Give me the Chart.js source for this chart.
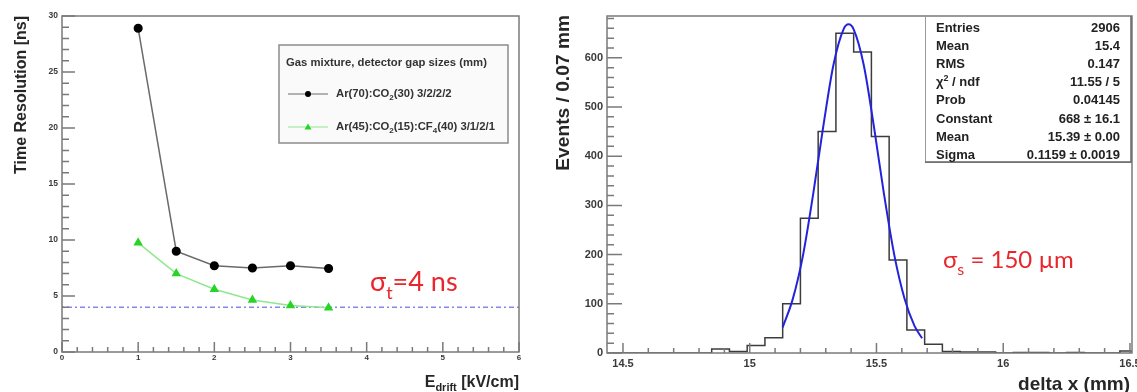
<!DOCTYPE html>
<html>
<head>
<meta charset="utf-8">
<script src="https://cdn.jsdelivr.net/npm/chart.js@4.4.0/dist/chart.umd.min.js"></script>
<style>
  html, body { margin: 0; padding: 0; background: #fff; }
  #wrap { position: relative; width: 1137px; height: 392px; overflow: hidden; }
  .panel { position: absolute; top: 0; height: 392px; }
  #left { left: 0; width: 540px; }
  #right { left: 540px; width: 597px; }
</style>
</head>
<body>
<div id="wrap">
  <div class="panel" id="left"><canvas id="timeRes"></canvas></div>
  <div class="panel" id="right"><canvas id="deltaX"></canvas></div>
</div>
<script>
// ---- left panel: time resolution vs drift field ----
const driftField = [1, 1.5, 2, 2.5, 3, 3.5];
const resArCO2 = [28.9, 9.0, 7.7, 7.5, 7.7, 7.45];
const resArCO2CF4 = [9.75, 7.0, 5.6, 4.65, 4.15, 3.95];
const sigmaTField = [0, 6];
const sigmaTValue = [4, 4];
const fieldTicks = [0, 1, 2, 3, 4, 5, 6];
const resTicks = [0, 5, 10, 15, 20, 25, 30];
const legendTitle = "Gas mixture, detector gap sizes (mm)";
const seriesNames = ["Ar(70):CO_{2}(30) 3/2/2/2", "Ar(45):CO_{2}(15):CF_{4}(40) 3/1/2/1"];

// ---- right panel: delta x histogram (0.07 mm bins) + gaussian fit ----
const binEdges = [14.43, 14.50, 14.57, 14.64, 14.71, 14.78, 14.85, 14.92, 14.99, 15.06,
                  15.13, 15.20, 15.27, 15.34, 15.41, 15.48, 15.55, 15.62, 15.69, 15.76,
                  15.83, 15.90, 15.97, 16.04, 16.11, 16.18, 16.25, 16.32, 16.39, 16.46, 16.53];
const binCounts = [0, 0, 0, 0, 0, 0, 8, 3, 15, 31,
                   100, 274, 450, 650, 612, 440, 189, 47, 18, 3,
                   2, 2, 0, 1, 1, 0, 1, 0, 0, 4];
const fitX = [15.13, 15.17, 15.21, 15.25, 15.29, 15.33, 15.37, 15.39, 15.41, 15.45, 15.49, 15.53, 15.57, 15.61, 15.65, 15.68];
const fitY = [52, 110, 198, 322, 460, 585, 658, 668, 658, 585, 460, 322, 200, 112, 55, 30];
const dxTicks = [14.5, 15, 15.5, 16, 16.5];
const countTicks = [0, 100, 200, 300, 400, 500, 600];
const statsLabels = ["Entries", "Mean", "RMS", "\u03C7^{2} / ndf", "Prob", "Constant", "Mean", "Sigma"];
const statsValues = ["2906", "15.4", "0.147", "11.55 / 5", "0.04145", "668 \u00B1 16.1", "15.39 \u00B1 0.00", "0.1159 \u00B1 0.0019"];

const ROOT_FONT = "'Liberation Sans', Arial, sans-serif";
const NOTE_FONT = "Lato, 'Open Sans', sans-serif";

// text with _{sub} and ^{sup} pieces
function richParts(text) {
  return text.split(/(_\{[^}]*\}|\^\{[^}]*\})/).filter(s => s.length).map(s => {
    if (s.startsWith('_{')) return { t: s.slice(2, -1), k: 'sub' };
    if (s.startsWith('^{')) return { t: s.slice(2, -1), k: 'sup' };
    return { t: s, k: 'n' };
  });
}
function drawRich(ctx, text, x, y, size, weight, family, align) {
  const parts = richParts(text);
  const fontFor = k => `${weight} ${k === 'n' ? size : Math.round(size * 0.68)}px ${family}`;
  let w = 0;
  parts.forEach(p => { ctx.font = fontFor(p.k); p.w = ctx.measureText(p.t).width; w += p.w; });
  let cx = align === 'right' ? x - w : x;
  ctx.textAlign = 'left';
  ctx.textBaseline = 'alphabetic';
  parts.forEach(p => {
    ctx.font = fontFor(p.k);
    const dy = p.k === 'sub' ? size * 0.28 : p.k === 'sup' ? -size * 0.4 : 0;
    ctx.fillText(p.t, cx, y + dy);
    cx += p.w;
  });
}

function drawFrameAndTicks(chart, s) {
  const { ctx, chartArea: a, scales } = chart;
  const x = scales.x, y = scales.y;
  ctx.save();
  ctx.strokeStyle = '#7a7a7a';
  ctx.lineWidth = 1.5;
  ctx.strokeRect(a.left, a.top, a.right - a.left, a.bottom - a.top);
  ctx.beginPath();
  const walk = (min, max, minor, major, fn) => {
    for (let k = Math.ceil(min / minor - 1e-6); k * minor <= max + 1e-6; k++) {
      const v = k * minor;
      const r = v / major;
      fn(v, Math.abs(r - Math.round(r)) < 1e-6);
    }
  };
  walk(x.min, x.max, s.xMinor, s.xMajor, (v, big) => {
    const px = x.getPixelForValue(v);
    ctx.moveTo(px, a.bottom);
    ctx.lineTo(px, a.bottom - (big ? s.xBig : s.xSmall));
  });
  walk(y.min, y.max, s.yMinor, s.yMajor, (v, big) => {
    const py = y.getPixelForValue(v);
    ctx.moveTo(a.left, py);
    ctx.lineTo(a.left + (big ? s.yBig : s.ySmall), py);
  });
  ctx.stroke();
  ctx.restore();
}

function fixAxis(size) {
  return scale => {
    if (scale.isHorizontal()) scale.height = size; else scale.width = size;
    scale.paddingLeft = 0; scale.paddingRight = 0;
    scale.paddingTop = 0; scale.paddingBottom = 0;
  };
}

// ---------------- left chart ----------------
new Chart(document.getElementById('timeRes'), {
  type: 'scatter',
  data: {
    datasets: [
      {
        label: seriesNames[0],
        data: driftField.map((f, i) => ({ x: f, y: resArCO2[i] })),
        showLine: true,
        borderColor: '#6a6a6a',
        borderWidth: 1.5,
        pointStyle: 'circle',
        pointRadius: 3.8,
        pointBackgroundColor: '#000',
        pointBorderColor: '#000',
        order: 1
      },
      {
        label: seriesNames[1],
        data: driftField.map((f, i) => ({ x: f, y: resArCO2CF4[i] })),
        showLine: true,
        borderColor: '#8ee88e',
        borderWidth: 1.5,
        pointStyle: 'triangle',
        pointRadius: 4,
        pointBackgroundColor: '#27d427',
        pointBorderColor: '#27d427',
        order: 2
      },
      {
        label: 'sigma_t',
        data: sigmaTField.map((f, i) => ({ x: f, y: sigmaTValue[i] })),
        showLine: true,
        borderColor: '#8585ee',
        borderWidth: 1.5,
        borderDash: [2, 3, 5, 3],
        pointRadius: 0,
        order: 3
      }
    ]
  },
  options: {
    responsive: true,
    maintainAspectRatio: false,
    animation: false,
    layout: { padding: { top: 16, right: 21, left: 0, bottom: 0 } },
    plugins: { legend: { display: false }, tooltip: { enabled: false } },
    scales: {
      x: {
        type: 'linear', min: 0, max: 6,
        afterBuildTicks: sc => { sc.ticks = fieldTicks.map(v => ({ value: v })); },
        afterFit: fixAxis(40),
        grid: { display: false, drawTicks: false }, border: { display: false },
        ticks: { padding: 1, color: '#3a3a3a', font: { family: ROOT_FONT, size: 8, weight: 'bold' }, maxRotation: 0 }
      },
      y: {
        type: 'linear', min: 0, max: 30,
        afterBuildTicks: sc => { sc.ticks = resTicks.map(v => ({ value: v })); },
        afterFit: fixAxis(62),
        grid: { display: false, drawTicks: false }, border: { display: false },
        ticks: { padding: 4, color: '#3a3a3a', font: { family: ROOT_FONT, size: 8.5, weight: 'bold' } }
      }
    }
  },
  plugins: [{
    id: 'leftDeco',
    afterDraw(chart) {
      drawFrameAndTicks(chart, { xMinor: 0.2, xMajor: 1, xBig: 10, xSmall: 5, yMinor: 1, yMajor: 5, yBig: 13, ySmall: 7 });
      const { ctx, chartArea: a } = chart;
      ctx.save();
      // legend box
      const bx = 279, by = 45, bw = 229, bh = 98;
      ctx.fillStyle = '#fafafa';
      ctx.fillRect(bx, by, bw, bh);
      ctx.strokeStyle = '#8c8c8c';
      ctx.lineWidth = 1.5;
      ctx.strokeRect(bx, by, bw, bh);
      ctx.fillStyle = '#333';
      drawRich(ctx, legendTitle, bx + 7, by + 21, 11.3, 'bold', ROOT_FONT, 'left');
      chart.data.datasets.slice(0, 2).forEach((ds, i) => {
        const ly = by + 49 + i * 33;
        ctx.strokeStyle = ds.borderColor;
        ctx.lineWidth = 1.2;
        ctx.beginPath();
        ctx.moveTo(bx + 9, ly); ctx.lineTo(bx + 49, ly);
        ctx.stroke();
        ctx.fillStyle = ds.pointBackgroundColor;
        ctx.beginPath();
        if (ds.pointStyle === 'circle') {
          ctx.arc(bx + 29, ly, 3, 0, Math.PI * 2);
        } else {
          ctx.moveTo(bx + 29, ly - 3.5); ctx.lineTo(bx + 32.5, ly + 2.5); ctx.lineTo(bx + 25.5, ly + 2.5); ctx.closePath();
        }
        ctx.fill();
        ctx.fillStyle = '#333';
        drawRich(ctx, ds.label, bx + 57, ly + 3, 11.3, 'bold', ROOT_FONT, 'left');
      });
      // axis titles
      ctx.fillStyle = '#262626';
      ctx.save();
      ctx.translate(26, a.top);
      ctx.rotate(-Math.PI / 2);
      drawRich(ctx, 'Time Resolution [ns]', 0, 0, 16, 'bold', ROOT_FONT, 'right');
      ctx.restore();
      drawRich(ctx, 'E_{drift} [kV/cm]', a.right, 387, 16, 'bold', ROOT_FONT, 'right');
      // annotation
      ctx.fillStyle = '#e8262b';
      drawRich(ctx, '\u03C3_{t}=4 ns', 370, 291, 27, 'normal', NOTE_FONT, 'left');
      ctx.restore();
    }
  }]
});

// ---------------- right chart ----------------
new Chart(document.getElementById('deltaX'), {
  type: 'scatter',
  data: {
    datasets: [
      {
        label: 'fit',
        data: fitX.map((v, i) => ({ x: v, y: fitY[i] })),
        showLine: true,
        cubicInterpolationMode: 'monotone',
        borderColor: '#2323dc',
        borderWidth: 2,
        pointRadius: 0,
        order: 1
      },
      {
        label: 'delta x',
        data: binEdges.map((e, i) => ({ x: e, y: binCounts[Math.min(i, binCounts.length - 1)] })),
        showLine: true,
        stepped: 'before',
        borderColor: '#3c3c3c',
        borderWidth: 1.5,
        pointRadius: 0,
        order: 2
      }
    ]
  },
  options: {
    responsive: true,
    maintainAspectRatio: false,
    animation: false,
    layout: { padding: { top: 16, right: 5, left: 0, bottom: 0 } },
    plugins: { legend: { display: false }, tooltip: { enabled: false } },
    scales: {
      x: {
        type: 'linear', min: 14.437, max: 16.508,
        afterBuildTicks: sc => { sc.ticks = dxTicks.map(v => ({ value: v })); },
        afterFit: fixAxis(39),
        grid: { display: false, drawTicks: false }, border: { display: false },
        ticks: { padding: 4, color: '#3a3a3a', font: { family: ROOT_FONT, size: 11, weight: 'bold' }, maxRotation: 0,
                 callback: v => String(v) }
      },
      y: {
        type: 'linear', min: 0, max: 685,
        afterBuildTicks: sc => { sc.ticks = countTicks.map(v => ({ value: v })); },
        afterFit: fixAxis(67),
        grid: { display: false, drawTicks: false }, border: { display: false },
        ticks: { padding: 4, color: '#3a3a3a', font: { family: ROOT_FONT, size: 11, weight: 'bold' } }
      }
    }
  },
  plugins: [{
    id: 'rightDeco',
    afterDraw(chart) {
      drawFrameAndTicks(chart, { xMinor: 0.1, xMajor: 0.5, xBig: 10, xSmall: 5, yMinor: 20, yMajor: 100, yBig: 15, ySmall: 7 });
      const { ctx, chartArea: a } = chart;
      ctx.save();
      // stats box
      const bx = 385, by = a.top, bw = 206, bh = 146;
      ctx.fillStyle = '#fff';
      ctx.fillRect(bx, by, bw, bh);
      ctx.strokeStyle = '#9a9a9a';
      ctx.lineWidth = 1;
      ctx.strokeRect(bx + 0.5, by + 0.5, bw, bh);
      ctx.strokeStyle = '#666';
      ctx.lineWidth = 1.5;
      ctx.beginPath();
      ctx.moveTo(bx + bw, by); ctx.lineTo(bx + bw, by + bh); ctx.lineTo(bx, by + bh);
      ctx.stroke();
      ctx.fillStyle = '#222';
      statsLabels.forEach((lab, i) => {
        const ly = by + 16 + i * 18.1;
        drawRich(ctx, lab, bx + 11, ly, 13, 'bold', ROOT_FONT, 'left');
        drawRich(ctx, statsValues[i], bx + bw - 11, ly, 13, 'bold', ROOT_FONT, 'right');
      });
      // axis titles
      ctx.fillStyle = '#262626';
      ctx.save();
      ctx.translate(29, a.top - 1);
      ctx.rotate(-Math.PI / 2);
      drawRich(ctx, 'Events / 0.07 mm', 0, 0, 19.2, 'bold', ROOT_FONT, 'right');
      ctx.restore();
      drawRich(ctx, 'delta x (mm)', 590, 390, 19, 'bold', ROOT_FONT, 'right');
      // annotation
      ctx.fillStyle = '#e8262b';
      drawRich(ctx, '\u03C3_{s} = 150 \u00B5m', 403, 268, 24, 'normal', NOTE_FONT, 'left');
      ctx.restore();
    }
  }]
});
</script>
</body>
</html>
